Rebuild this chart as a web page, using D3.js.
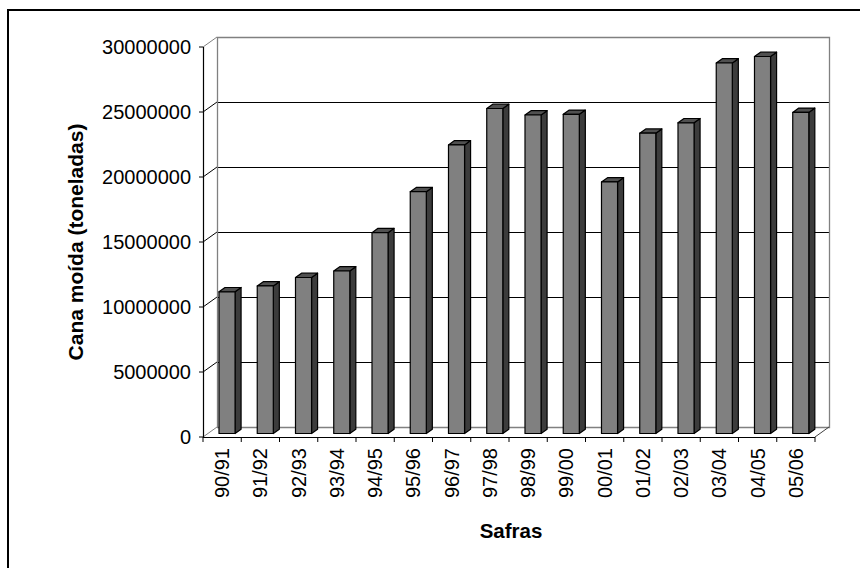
<!DOCTYPE html>
<html>
<head>
<meta charset="utf-8">
<script src="https://cdn.jsdelivr.net/npm/d3@7/dist/d3.min.js"></script>
<style>
  html, body { margin: 0; padding: 0; background: #fff; }
  svg { display: block; }
  text { font-family: "Liberation Sans", Arial, sans-serif; fill: #000; }
</style>
</head>
<body>
<svg id="chart" width="860" height="568"></svg>
<script>
// Cana moída por safra (toneladas)
const categories = ["90/91", "91/92", "92/93", "93/94", "94/95", "95/96", "96/97", "97/98",
                    "98/99", "99/00", "00/01", "01/02", "02/03", "03/04", "04/05", "05/06"];
const values = [10900000, 11350000, 12000000, 12500000, 15450000, 18600000, 22200000, 25000000,
                24500000, 24550000, 19350000, 23100000, 23900000, 28500000, 29000000, 24700000];
const yTicks = [0, 5000000, 10000000, 15000000, 20000000, 25000000, 30000000];
const yTitle = "Cana moída (toneladas)";
const xTitle = "Safras";

(function draw() {
  const svg = d3.select("#chart");

  // plot frame (front plane) and depth vector of the 3D box
  const pL = 203, pR = 815, pT = 47, pB = 437;
  const depth = { dx: 14, dy: -10 };
  const f1 = 0.35, f2 = 0.78;   // front and back of the columns, as fractions of the depth

  const x = d3.scaleBand().domain(categories).range([pL, pR])
    .paddingInner(0.58).paddingOuter(0.29);
  const y = d3.scaleLinear().domain([0, 30000000]).range([pB, pT]);

  // outer chart border
  svg.append("rect").attr("x", 8).attr("y", 10).attr("width", 900).attr("height", 600)
    .attr("fill", "none").attr("stroke", "#000").attr("stroke-width", 2);

  const box = svg.append("g");
  const bx = pL + depth.dx, bR = pR + depth.dx;
  const yb = v => y(v) + depth.dy;

  // gridlines on the back wall and on the left side wall
  yTicks.slice(1, -1).forEach(t => {
    box.append("line").attr("x1", bx).attr("x2", bR)
      .attr("y1", Math.round(yb(t)) + 0.5).attr("y2", Math.round(yb(t)) + 0.5)
      .attr("stroke", "#000").attr("stroke-width", 1);
  });
  yTicks.forEach(t => {
    box.append("line").attr("x1", pL).attr("y1", y(t))
      .attr("x2", bx).attr("y2", yb(t))
      .attr("stroke", t === 0 || t === 30000000 ? "#808080" : "#000").attr("stroke-width", 1);
  });

  // back wall outline and floor
  box.append("path")
    .attr("d", `M${bx + 0.5},${pB + depth.dy} V${pT + depth.dy + 0.5} H${bR + 0.5} V${pB + depth.dy + 0.5} H${bx}`)
    .attr("fill", "none").attr("stroke", "#808080").attr("stroke-width", 1.3);
  box.append("line").attr("x1", pR).attr("y1", pB).attr("x2", bR).attr("y2", pB + depth.dy)
    .attr("stroke", "#404040").attr("stroke-width", 1);

  // columns
  const bars = svg.append("g").selectAll("g").data(categories).join("g");
  bars.each(function(c, i) {
    const g = d3.select(this);
    const xl = x(c), xr = x(c) + x.bandwidth();
    const d1x = depth.dx * f1, d1y = depth.dy * f1;
    const d2x = depth.dx * f2, d2y = depth.dy * f2;
    const yt = y(values[i]), y0 = y(0);
    const side = g.append("path")
      .attr("d", `M${xr + d1x},${yt + d1y} L${xr + d2x},${yt + d2y} L${xr + d2x},${y0 + d2y} L${xr + d1x},${y0 + d1y} Z`)
      .attr("fill", "#3c3c3c");
    const topFace = g.append("path")
      .attr("d", `M${xl + d1x},${yt + d1y} L${xr + d1x},${yt + d1y} L${xr + d2x},${yt + d2y} L${xl + d2x},${yt + d2y} Z`)
      .attr("fill", "#505050");
    const front = g.append("rect")
      .attr("x", xl + d1x).attr("y", yt + d1y)
      .attr("width", x.bandwidth()).attr("height", y0 - yt)
      .attr("fill", "#808080");
    [side, topFace, front].forEach(s => s.attr("stroke", "#000")
      .attr("stroke-width", 1.2).attr("stroke-linejoin", "round"));
  });

  // value axis
  const yAxis = svg.append("g");
  yAxis.append("line").attr("x1", pL + 0.5).attr("x2", pL + 0.5).attr("y1", pT).attr("y2", pB)
    .attr("stroke", "#000").attr("stroke-width", 1.2);
  yTicks.forEach(t => {
    yAxis.append("line").attr("x1", pL - 4).attr("x2", pL).attr("y1", y(t)).attr("y2", y(t))
      .attr("stroke", "#000").attr("stroke-width", 1);
    yAxis.append("text").attr("x", 191).attr("y", y(t) + 7)
      .attr("text-anchor", "end").attr("font-size", 20).text(t);
  });

  // category axis
  const xAxis = svg.append("g");
  xAxis.append("line").attr("x1", pL).attr("x2", pR).attr("y1", pB + 0.5).attr("y2", pB + 0.5)
    .attr("stroke", "#000").attr("stroke-width", 1.2);
  const step = x.step();
  d3.range(categories.length + 1).forEach(i => {
    const xx = pL + i * step;
    xAxis.append("line").attr("x1", xx).attr("x2", xx).attr("y1", pB).attr("y2", pB + 5)
      .attr("stroke", "#000").attr("stroke-width", 1);
  });
  categories.forEach(c => {
    const cx = x(c) + x.bandwidth() / 2;
    xAxis.append("text")
      .attr("transform", `translate(${cx + 7},448) rotate(-90)`)
      .attr("text-anchor", "end").attr("font-size", 20).text(c);
  });

  // axis titles
  svg.append("text").attr("transform", "translate(83,242) rotate(-90)")
    .attr("text-anchor", "middle").attr("font-size", 21).attr("font-weight", "bold").text(yTitle);
  svg.append("text").attr("x", 511).attr("y", 538)
    .attr("text-anchor", "middle").attr("font-size", 20.5).attr("font-weight", "bold").text(xTitle);
})();
</script>
</body>
</html>
